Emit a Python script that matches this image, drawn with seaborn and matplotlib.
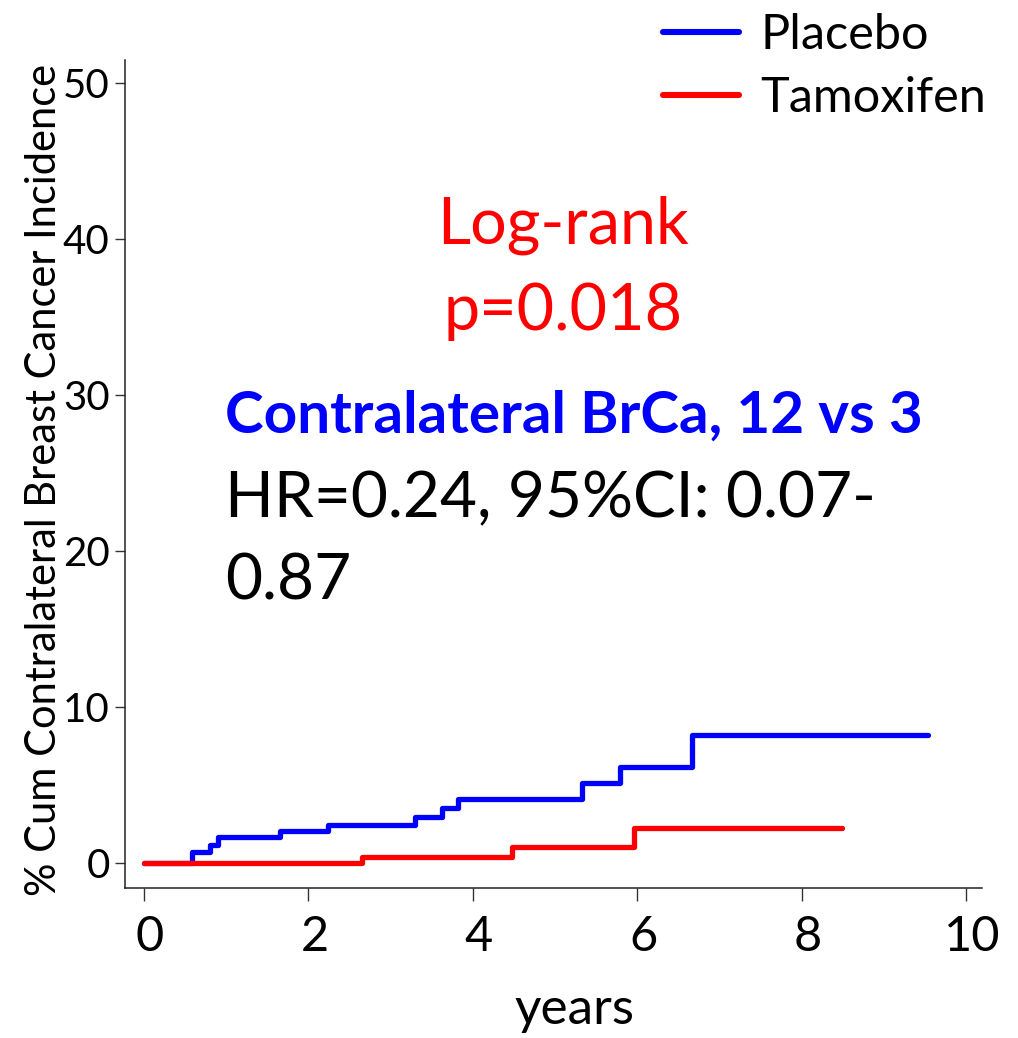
import numpy as np
import pandas as pd
import matplotlib
matplotlib.use('Agg')
import matplotlib.pyplot as plt
import matplotlib.transforms as mtransforms
from matplotlib.legend_handler import HandlerLine2D
import seaborn as sns

# step points (years, % cumulative incidence)
placebo_years = [0, 0.58, 0.80, 0.90, 1.65, 2.24, 3.30, 3.62, 3.82, 5.33, 5.79, 6.66, 9.53]
placebo_pct = [0, 0.7, 1.15, 1.65, 2.07, 2.45, 2.98, 3.55, 4.1, 5.12, 6.14, 8.2, 8.2]
tamox_years = [0, 2.65, 4.47, 5.96, 8.49]
tamox_pct = [0, 0.4, 1.05, 2.27, 2.27]

groups = ['Placebo', 'Tamoxifen']
colors = ['#0000ff', '#ff0000']
x_ticks = [0, 2, 4, 6, 8, 10]
y_ticks = [0, 10, 20, 30, 40, 50]

df = pd.concat([
    pd.DataFrame({'years': placebo_years, 'pct': placebo_pct, 'group': 'Placebo'}),
    pd.DataFrame({'years': tamox_years, 'pct': tamox_pct, 'group': 'Tamoxifen'}),
], ignore_index=True)

sns.set_style('ticks')
plt.rcParams['font.family'] = ['Lato', 'DejaVu Sans']

fig = plt.figure(figsize=(10.18, 10.38), dpi=100)
ax = fig.add_axes([0.1228, 0.1445, 0.8418, 0.7977])

sns.lineplot(data=df, x='years', y='pct', hue='group', hue_order=groups,
             palette=colors, drawstyle='steps-post', linewidth=3.8,
             estimator=None, sort=False, ax=ax, legend=False)

ax.set_xlim(-0.23, 10.19)
ax.set_ylim(-1.6, 51.5)
ax.set_xticks(x_ticks)
ax.set_yticks(y_ticks)
ax.tick_params(axis='x', labelsize=35, length=9.5, width=1, pad=10,
               color='#333333', labelcolor='black')
ax.tick_params(axis='y', labelsize=29, length=7, width=1, pad=4,
               color='#333333', labelcolor='black')
# x tick labels sit a little right of their ticks in the original
shift = mtransforms.ScaledTranslation(6 / 100, 0, fig.dpi_scale_trans)
for lab in ax.get_xticklabels():
    lab.set_transform(lab.get_transform() + shift)

for side in ['top', 'right']:
    ax.spines[side].set_visible(False)
for side in ['left', 'bottom']:
    ax.spines[side].set_linewidth(1.1)
    ax.spines[side].set_color('#222222')

ax.set_xlabel('years', fontsize=37, color='black')
ax.xaxis.set_label_coords(0.525, -0.119)
ax.set_ylabel('% Cum Contralateral Breast Cancer Incidence', fontsize=30, color='black')
ax.yaxis.set_label_coords(-0.072, 0.493)

# legend above the plot, right side
handles = [plt.Line2D([], [], color=c, linewidth=4.4) for c in colors]
fig.legend(handles, groups, loc='upper right', bbox_to_anchor=(1.012, 1.03),
           frameon=False, fontsize=35, handlelength=1.55, handletextpad=0.45,
           labelspacing=0.4, labelcolor='black',
           handler_map={plt.Line2D: HandlerLine2D(ypad=-0.3)})

ax.text(5.1, 39.7, 'Log-rank', color='#ff0000', fontsize=46.5, ha='center', va='baseline')
ax.text(5.1, 34.2, 'p=0.018', color='#ff0000', fontsize=46.5, ha='center', va='baseline')
ax.text(0.985, 27.6, 'Contralateral BrCa, 12 vs 3', color='#0000ff', fontsize=42,
        fontweight='bold', ha='left', va='baseline')
ax.text(0.985, 22.2, 'HR=0.24, 95%CI: 0.07-', color='black', fontsize=46,
        ha='left', va='baseline')
ax.text(0.985, 16.9, '0.87', color='black', fontsize=46, ha='left', va='baseline')

fig.savefig('out.png', dpi=100)
